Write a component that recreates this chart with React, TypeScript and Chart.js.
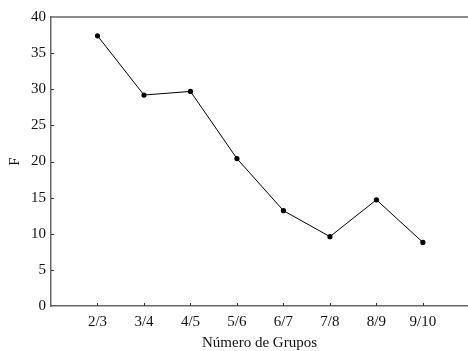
import React, { useEffect, useRef } from "react";
import { Chart, registerables } from "chart.js";

Chart.register(...registerables);

const categories = ["2/3", "3/4", "4/5", "5/6", "6/7", "7/8", "8/9", "9/10"];
const fValues = [37.4, 29.2, 29.7, 20.4, 13.2, 9.6, 14.7, 8.8];
const yTicks = [0, 5, 10, 15, 20, 25, 30, 35, 40];

const FONT = "'Liberation Serif', 'Times New Roman', serif";
const AXIS = "#666666";

const framePlugin = {
  id: "frameTicks",
  afterDraw(chart: any) {
    const { ctx, chartArea, scales } = chart;
    const { left, right, top, bottom } = chartArea;
    ctx.save();
    ctx.strokeStyle = AXIS;
    ctx.lineWidth = 1.5;
    ctx.beginPath();
    ctx.moveTo(left - 0.75, top);
    ctx.lineTo(right, top);
    ctx.stroke();
    ctx.lineWidth = 1;
    ctx.strokeStyle = "#333";
    ctx.beginPath();
    categories.forEach((_, i) => {
      const px = Math.round(scales.x.getPixelForValue(i + 1)) + 0.5;
      ctx.moveTo(px, bottom);
      ctx.lineTo(px, bottom - 3);
    });
    yTicks.forEach((v) => {
      if (v === 0 || v === 40) return;
      const py = Math.round(scales.y.getPixelForValue(v)) + 0.5;
      ctx.moveTo(left, py);
      ctx.lineTo(left + 3, py);
    });
    ctx.stroke();
    ctx.restore();
  },
};

export default function App() {
  const ref = useRef<HTMLCanvasElement | null>(null);
  useEffect(() => {
    document.body.style.margin = "0";
    const canvas = ref.current;
    if (!canvas) return;
    const chart = new Chart(canvas, {
      type: "line",
      data: {
        datasets: [
          {
            data: fValues.map((v, i) => ({ x: i + 1, y: v })),
            borderColor: "#000",
            backgroundColor: "#000",
            borderWidth: 1,
            pointRadius: 2.6,
            pointBorderWidth: 0,
            pointBackgroundColor: "#000",
            tension: 0,
            clip: false as any,
          },
        ],
      },
      options: {
        animation: false,
        responsive: false,
        maintainAspectRatio: false,
        devicePixelRatio: 1,
        layout: { autoPadding: false, padding: { left: 0, top: 17, right: 0, bottom: 0 } },
        plugins: {
          legend: { display: false },
          tooltip: { enabled: false },
        },
        scales: {
          x: {
            type: "linear",
            min: 0,
            max: 8.97,
            afterFit(scale: any) {
              scale.height = 45;
              scale.paddingLeft = 0;
              scale.paddingRight = 0;
            },
            afterBuildTicks(scale: any) {
              scale.ticks = categories.map((_, i) => ({ value: i + 1 }));
            },
            grid: { display: false, drawTicks: false },
            border: { display: true, color: AXIS, width: 1.5 },
            ticks: {
              autoSkip: false,
              maxRotation: 0,
              padding: 7,
              color: "#111",
              font: { family: FONT, size: 15 },
              callback: (v: any) => categories[Number(v) - 1] ?? "",
            },
            title: {
              display: true,
              text: "Número de Grupos",
              color: "#111",
              font: { family: FONT, size: 15, lineHeight: 1 },
              padding: { top: 0, bottom: 0 },
            },
          },
          y: {
            type: "linear",
            min: 0,
            max: 40,
            afterFit(scale: any) {
              scale.width = 51;
              scale.paddingTop = 0;
              scale.paddingBottom = 0;
            },
            afterBuildTicks(scale: any) {
              scale.ticks = yTicks.map((v) => ({ value: v }));
            },
            grid: { display: false, drawTicks: false },
            border: { display: true, color: AXIS, width: 1.5 },
            ticks: {
              padding: 5,
              color: "#111",
              font: { family: FONT, size: 15 },
            },
            title: {
              display: true,
              text: "F",
              color: "#111",
              font: { family: FONT, size: 15, lineHeight: 1 },
              padding: { top: 8, bottom: 0 },
            },
          },
        },
      },
      plugins: [framePlugin],
    });
    return () => chart.destroy();
  }, []);
  return (
    <div style={{ position: "absolute", left: 0, top: 0, width: 468, height: 351 }}>
      <canvas ref={ref} width={468} height={351} style={{ width: 468, height: 351 }} />
    </div>
  );
}
